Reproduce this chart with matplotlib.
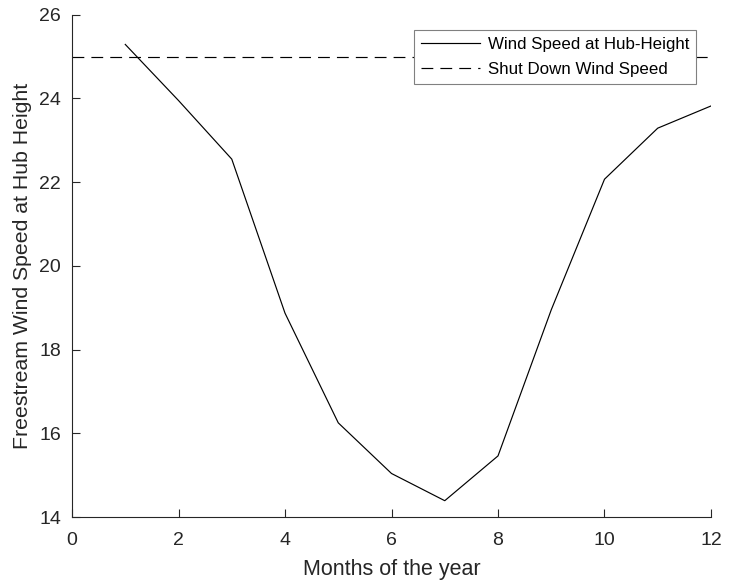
import matplotlib
matplotlib.use("Agg")
import matplotlib.pyplot as plt

# monthly freestream wind speed at hub height
months = [1, 2, 3, 4, 5, 6, 7, 8, 9, 10, 11, 12]
wind_speed = [25.29, 23.95, 22.55, 18.87, 16.25, 15.04, 14.39, 15.46, 18.95, 22.07, 23.29, 23.82]
shutdown_x = [0, 12]
shutdown_speed = [25, 25]

plt.rcParams["font.family"] = ["Liberation Sans", "DejaVu Sans"]
axis_gray = (0.15, 0.15, 0.15)

fig = plt.figure(figsize=(7.38, 5.86), dpi=100)
ax = fig.add_axes([0.0976, 0.1177, 0.8658, 0.8572])

ax.plot(months, wind_speed, color="black", lw=0.85, label="Wind Speed at Hub-Height")
ax.plot(shutdown_x, shutdown_speed, color="black", lw=0.85, ls=(0, (10, 6)),
        label="Shut Down Wind Speed")

ax.set_xlim(0, 12)
ax.set_ylim(14, 26)
ax.set_xticks(range(0, 13, 2))
ax.set_yticks(range(14, 27, 2))

for side in ("top", "right"):
    ax.spines[side].set_visible(False)
for side in ("left", "bottom"):
    ax.spines[side].set_color(axis_gray)
    ax.spines[side].set_linewidth(0.8)

ax.tick_params(direction="in", length=6, width=0.8, colors=axis_gray,
               labelsize=14, labelcolor=axis_gray)
ax.tick_params(axis="x", pad=11)
ax.tick_params(axis="y", pad=8)
ax.set_xlabel("Months of the year", fontsize=15.5, color=axis_gray, labelpad=7)
ax.set_ylabel("Freestream Wind Speed at Hub Height", fontsize=15.3, color=axis_gray, labelpad=5)

leg = ax.legend(loc="upper right", bbox_to_anchor=(0.9765, 0.97), fontsize=12.2,
                frameon=True, fancybox=False, framealpha=1, handlelength=3.5,
                handletextpad=0.45, borderpad=0.4, labelspacing=0.6, borderaxespad=0)
leg.get_frame().set_edgecolor((0.5, 0.5, 0.5))
leg.get_frame().set_linewidth(0.8)

fig.savefig("out.png", dpi=100)
